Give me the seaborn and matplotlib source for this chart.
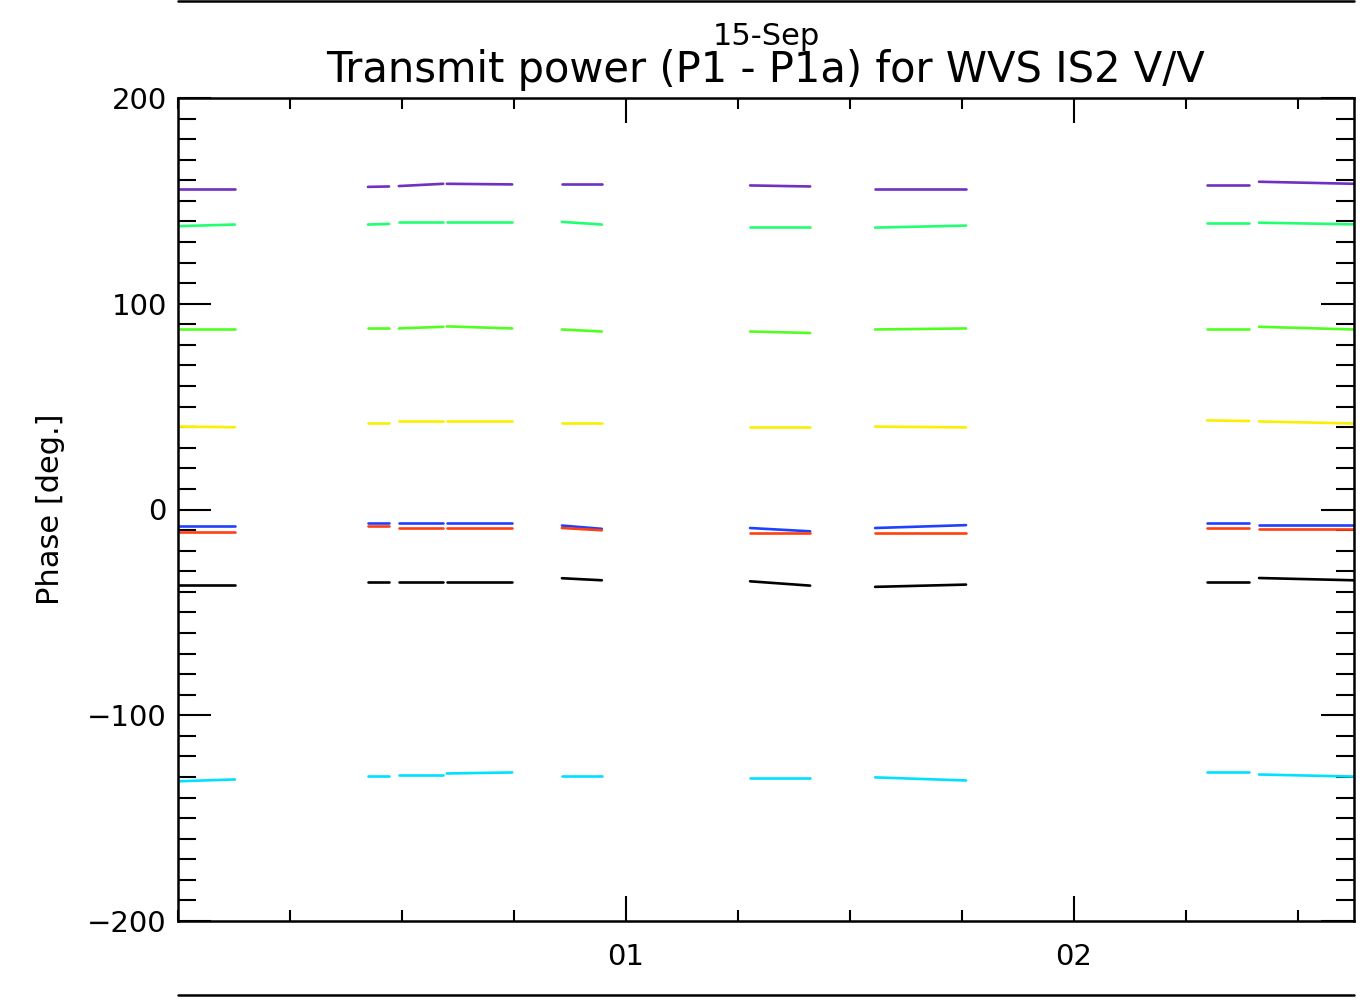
import numpy as np
import pandas as pd
import matplotlib
matplotlib.use("Agg")
import matplotlib.pyplot as plt
import seaborn as sns
from matplotlib.lines import Line2D
from matplotlib.ticker import MultipleLocator, FixedLocator, FixedFormatter

sns.set_theme(style="white")
plt.rcParams["font.family"] = ["DejaVu Sans"]

# time windows of the data segments (hours after 00 UTC)
seg_start = [0.000, 0.424, 0.493, 0.600, 0.857, 1.277, 1.556, 2.297, 2.413]
seg_end = [0.127, 0.471, 0.592, 0.746, 0.946, 1.411, 1.759, 2.391, 2.625]

# phase at the start / end of each segment, one pair of lists per trace
purple_start = [156.0, 156.8, 157.2, 158.3, 158.3, 157.5, 156.0, 157.9, 159.3]
purple_end = [156.0, 157.0, 158.3, 158.0, 158.3, 157.0, 156.0, 157.9, 158.3]
spring_start = [137.7, 138.5, 139.8, 139.8, 139.8, 137.5, 137.0, 139.4, 139.4]
spring_end = [138.5, 138.8, 139.8, 139.8, 138.5, 137.5, 138.0, 139.4, 138.6]
lawn_start = [87.8, 88.0, 88.0, 89.0, 87.5, 86.5, 87.5, 87.8, 88.8]
lawn_end = [87.8, 88.0, 88.8, 88.0, 86.5, 85.8, 88.0, 87.8, 87.5]
yellow_start = [40.3, 41.8, 42.8, 42.8, 41.8, 40.3, 40.3, 43.3, 42.8]
yellow_end = [40.0, 41.8, 42.8, 42.8, 41.8, 40.3, 39.9, 43.0, 41.8]
blue_start = [-7.8, -6.8, -6.8, -6.8, -7.8, -9.0, -9.0, -6.8, -7.6]
blue_end = [-7.8, -6.8, -6.8, -6.8, -9.4, -10.6, -7.6, -6.8, -7.6]
red_start = [-11.0, -8.1, -9.0, -9.0, -9.0, -11.3, -11.3, -9.0, -9.3]
red_end = [-11.0, -8.1, -9.0, -9.0, -10.1, -11.3, -11.3, -9.0, -9.3]
black_start = [-36.5, -35.4, -35.4, -35.4, -33.4, -34.9, -37.6, -35.4, -33.3]
black_end = [-36.5, -35.4, -35.4, -35.4, -34.4, -37.0, -36.5, -35.4, -34.4]
cyan_start = [-132.1, -129.3, -128.8, -128.3, -129.3, -130.7, -130.2, -127.8, -128.8]
cyan_end = [-131.2, -129.3, -128.8, -127.8, -129.3, -130.7, -131.7, -127.8, -129.8]

traces = {
    "purple": (purple_start, purple_end),
    "spring": (spring_start, spring_end),
    "lawn": (lawn_start, lawn_end),
    "yellow": (yellow_start, yellow_end),
    "blue": (blue_start, blue_end),
    "red": (red_start, red_end),
    "black": (black_start, black_end),
    "cyan": (cyan_start, cyan_end),
}
colors = {
    "purple": "#7030c0",
    "spring": "#20ff70",
    "lawn": "#50ff20",
    "yellow": "#f8f000",
    "blue": "#2040ff",
    "red": "#ff4010",
    "black": "#000000",
    "cyan": "#00e0ff",
}

rows = []
for name, (vs, ve) in traces.items():
    for i in range(len(seg_start)):
        rows.append((name, f"{name}{i}", seg_start[i], vs[i]))
        rows.append((name, f"{name}{i}", seg_end[i], ve[i]))
df = pd.DataFrame(rows, columns=["trace", "seg", "hour", "phase"])

fig = plt.figure(figsize=(13.66, 10), dpi=100)
ax = fig.add_axes([178 / 1366, 79 / 1000, 1176 / 1366, 823 / 1000])

sns.lineplot(data=df, x="hour", y="phase", hue="trace", units="seg",
             estimator=None, palette=colors, linewidth=1.9, legend=False,
             sort=False, ax=ax)

ax.set_xlim(0, 2.625)
ax.set_ylim(-200, 200)
ax.xaxis.set_major_locator(FixedLocator([1, 2]))
ax.xaxis.set_major_formatter(FixedFormatter(["01", "02"]))
ax.xaxis.set_minor_locator(MultipleLocator(0.25))
ax.yaxis.set_major_locator(MultipleLocator(100))
ax.yaxis.set_minor_locator(MultipleLocator(10))

ax.tick_params(axis="both", which="both", direction="in", colors="black",
               labelcolor="black", top=True, right=True, bottom=True,
               left=True, labelsize=21)
ax.tick_params(axis="y", which="major", length=24, width=1.5, pad=8)
ax.tick_params(axis="y", which="minor", length=13, width=1.5)
ax.tick_params(axis="x", which="major", length=18, width=1.5, pad=16)
ax.tick_params(axis="x", which="minor", length=8, width=1.5)
for sp in ax.spines.values():
    sp.set_visible(True)
    sp.set_color("black")
    sp.set_linewidth(1.8)

ax.set_xlabel("")
ax.set_ylabel("Phase [deg.]", fontsize=22, labelpad=16, color="black")
ax.grid(False)

ax.text(0.5, 1.0195, "Transmit power (P1 - P1a) for WVS IS2 V/V",
        transform=ax.transAxes, ha="center", va="baseline", fontsize=30,
        color="black")
ax.text(0.5, 1.0645, "15-Sep", transform=ax.transAxes, ha="center",
        va="baseline", fontsize=22, color="black")

# extra frame lines above and below the plot
x0, x1 = 178 / 1366, 1354 / 1366
fig.add_artist(Line2D([x0, x1], [0.999, 0.999], color="black", lw=1.8,
                      transform=fig.transFigure))
fig.add_artist(Line2D([x0, x1], [0.005, 0.005], color="black", lw=1.8,
                      transform=fig.transFigure))

fig.savefig("out.png", dpi=100, facecolor="white")
